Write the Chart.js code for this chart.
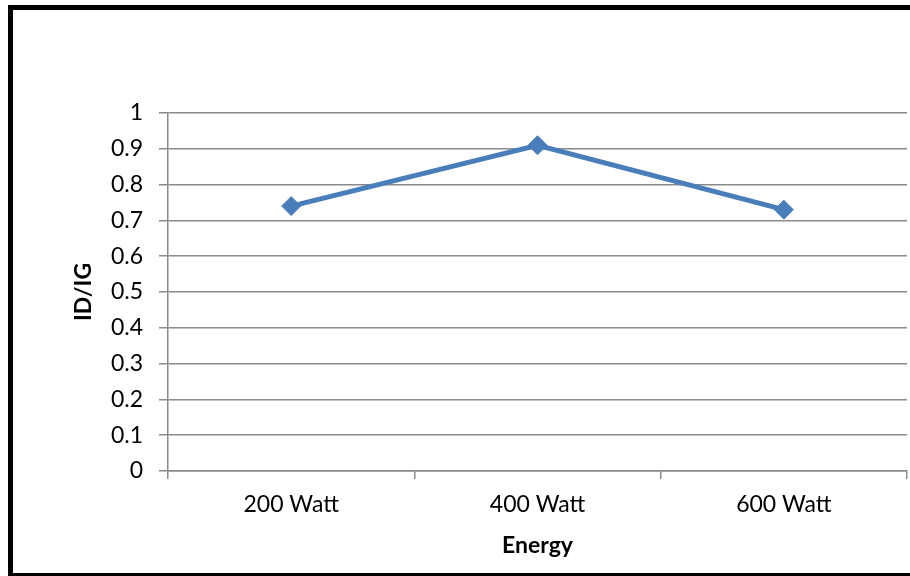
<!DOCTYPE html>
<html>
<head>
<meta charset="utf-8">
<script src="https://cdn.jsdelivr.net/npm/chart.js@4/dist/chart.umd.min.js"></script>
<style>
  html, body { margin: 0; padding: 0; background: #fff; }
  #wrap { width: 910px; height: 576px; position: relative; }
</style>
</head>
<body>
<div id="wrap"><canvas id="c" width="910" height="576"></canvas></div>
<script>
// Energy levels and measured ID/IG ratio
const categories = ['200 Watt', '400 Watt', '600 Watt'];
const ratioValues = [0.74, 0.91, 0.73];
const yTickLabels = ['0', '0.1', '0.2', '0.3', '0.4', '0.5', '0.6', '0.7', '0.8', '0.9', '1'];

const FONT = 'Lato, "Open Sans", sans-serif';
const GRID = '#8a8a8a';
const BLUE = '#4a7ebb';

// Black frame around the chart (left, top and bottom edges)
const framePlugin = {
  id: 'frame',
  afterDraw(chart) {
    const ctx = chart.ctx;
    ctx.save();
    ctx.fillStyle = '#000';
    ctx.fillRect(8, 5, 5, 571);
    ctx.fillRect(8, 5, 902, 5);
    ctx.fillRect(8, 573, 902, 3);
    ctx.restore();
  }
};

new Chart(document.getElementById('c'), {
  type: 'line',
  data: {
    labels: categories,
    datasets: [{
      data: ratioValues,
      borderColor: BLUE,
      backgroundColor: BLUE,
      borderWidth: 5,
      tension: 0,
      pointStyle: 'rectRot',
      pointRadius: 9.5,
      pointBorderWidth: 1,
      pointBackgroundColor: BLUE,
      pointBorderColor: BLUE
    }]
  },
  options: {
    responsive: false,
    animation: false,
    devicePixelRatio: 1,
    layout: {
      autoPadding: false,
      padding: { left: 0, right: 3, top: 113, bottom: 0 }
    },
    plugins: {
      legend: { display: false },
      tooltip: { enabled: false }
    },
    scales: {
      x: {
        type: 'category',
        offset: true,
        grid: {
          offset: true,
          drawOnChartArea: false,
          drawTicks: true,
          tickLength: 8,
          color: GRID,
          lineWidth: 1.5
        },
        border: { display: true, color: GRID, width: 1.5 },
        ticks: {
          color: '#000',
          font: { family: FONT, size: 23 },
          padding: 12,
          maxRotation: 0
        },
        title: {
          display: true,
          text: 'Energy',
          color: '#000',
          font: { family: FONT, size: 23, weight: 'bold' },
          padding: { top: 0, bottom: 17 }
        },
        afterFit(axis) {
          axis.height = 105;
          axis.paddingLeft = 0;
          axis.paddingRight = 0;
        }
      },
      y: {
        min: 0,
        max: 1,
        ticks: {
          stepSize: 0.1,
          color: '#000',
          font: { family: FONT, size: 23 },
          padding: 16,
          callback: (v, i) => yTickLabels[i]
        },
        grid: {
          color: GRID,
          lineWidth: 1.5,
          drawTicks: true,
          tickLength: 9
        },
        border: { display: true, color: GRID, width: 1.5 },
        title: {
          display: true,
          text: 'ID/IG',
          color: '#000',
          font: { family: FONT, size: 23, weight: 'bold' },
          padding: { top: 70, bottom: 0 }
        },
        afterFit(axis) { axis.width = 168; }
      }
    }
  },
  plugins: [framePlugin]
});
</script>
</body>
</html>
